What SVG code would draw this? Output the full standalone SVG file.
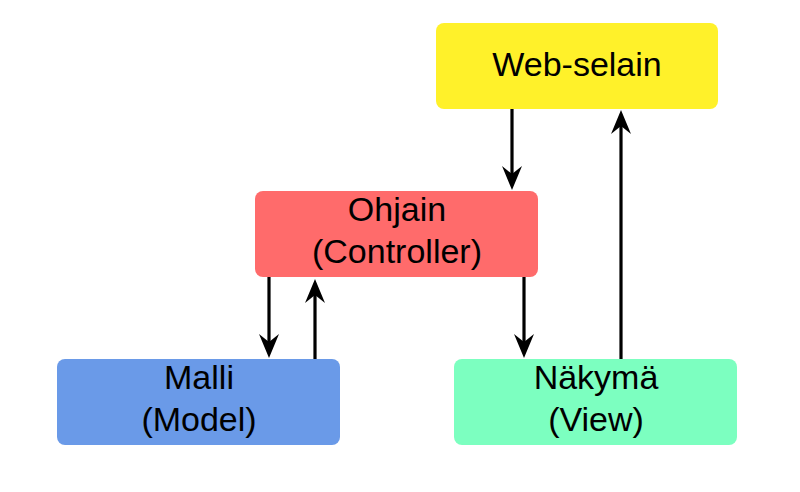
<svg xmlns="http://www.w3.org/2000/svg" width="800" height="492" viewBox="0 0 800 492">
  <defs>
    <style>
      .box { stroke: none; }
      .lbl { font-family: "Liberation Sans", Arial, sans-serif; font-size: 34px; fill: #000; text-anchor: middle; }
      .edge { stroke: #000; stroke-width: 3.2; fill: none; }
    </style>
    <marker id="arr" markerUnits="userSpaceOnUse" markerWidth="26" markerHeight="22" viewBox="0 0 26 22" refX="10" refY="11" orient="auto">
      <path d="M0,1 L24,11 L0,21 L8,11 Z" fill="#000"/>
    </marker>
  </defs>
  <rect width="800" height="492" fill="#fff"/>
  <g id="web-selain">
    <rect class="box" x="436" y="23" width="282" height="86" rx="8" fill="#FFF12A"/>
    <text class="lbl" x="577" y="76">Web-selain</text>
  </g>
  <g id="ohjain">
    <rect class="box" x="255" y="191" width="283" height="86" rx="8" fill="#FF6B6B"/>
    <text class="lbl" x="397" y="221">Ohjain</text>
    <text class="lbl" x="397" y="263">(Controller)</text>
  </g>
  <g id="malli">
    <rect class="box" x="57" y="359" width="283" height="86" rx="8" fill="#6A9AE8"/>
    <text class="lbl" x="199" y="389">Malli</text>
    <text class="lbl" x="199" y="431">(Model)</text>
  </g>
  <g id="nakyma">
    <rect class="box" x="454" y="359" width="283" height="86" rx="8" fill="#7CFFC0"/>
    <text class="lbl" x="596" y="389">Näkymä</text>
    <text class="lbl" x="596" y="431">(View)</text>
  </g>
  <g id="connectors">
    <line class="edge" x1="512" y1="109" x2="512" y2="176" marker-end="url(#arr)"/>
    <line class="edge" x1="621" y1="359" x2="621" y2="124" marker-end="url(#arr)"/>
    <line class="edge" x1="269" y1="277" x2="269" y2="344" marker-end="url(#arr)"/>
    <line class="edge" x1="315" y1="359" x2="315" y2="293" marker-end="url(#arr)"/>
    <line class="edge" x1="524" y1="277" x2="524" y2="344" marker-end="url(#arr)"/>
  </g>
</svg>
